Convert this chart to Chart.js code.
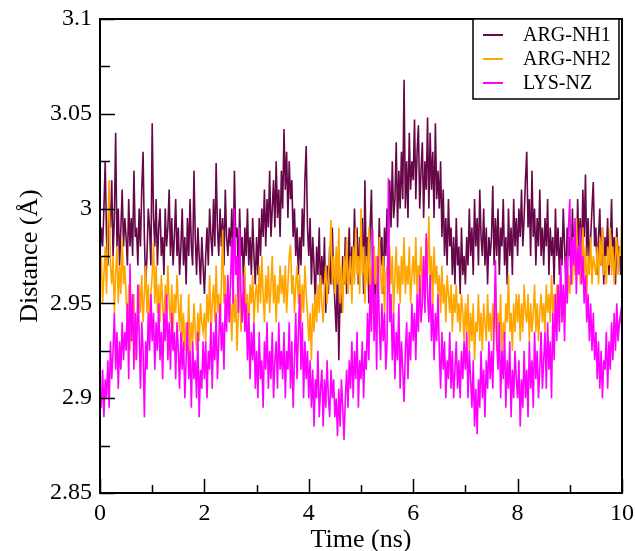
<!DOCTYPE html>
<html>
<head>
<meta charset="utf-8">
<title>Distance vs time</title>
<script src="https://cdn.jsdelivr.net/npm/chart.js@4.4.0/dist/chart.umd.min.js"></script>
<style>
    html, body { margin: 0; padding: 0; background: #fff; }
</style>
</head>
<body>
<canvas id="distChart" width="635" height="551"></canvas>
<script>
// Tempo de simulação (ns)
const timeNs = [
    0, 0.025, 0.05, 0.075, 0.1, 0.125, 0.15, 0.175, 0.2, 0.225, 0.25, 0.275, 0.3, 0.325, 0.35, 0.375, 0.4, 0.425, 0.45, 0.475,
    0.5, 0.525, 0.55, 0.575, 0.6, 0.625, 0.65, 0.675, 0.7, 0.725, 0.75, 0.775, 0.8, 0.825, 0.85, 0.875, 0.9, 0.925, 0.95, 0.975,
    1, 1.025, 1.05, 1.075, 1.1, 1.125, 1.15, 1.175, 1.2, 1.225, 1.25, 1.275, 1.3, 1.325, 1.35, 1.375, 1.4, 1.425, 1.45, 1.475,
    1.5, 1.525, 1.55, 1.575, 1.6, 1.625, 1.65, 1.675, 1.7, 1.725, 1.75, 1.775, 1.8, 1.825, 1.85, 1.875, 1.9, 1.925, 1.95, 1.975,
    2, 2.025, 2.05, 2.075, 2.1, 2.125, 2.15, 2.175, 2.2, 2.225, 2.25, 2.275, 2.3, 2.325, 2.35, 2.375, 2.4, 2.425, 2.45, 2.475,
    2.5, 2.525, 2.55, 2.575, 2.6, 2.625, 2.65, 2.675, 2.7, 2.725, 2.75, 2.775, 2.8, 2.825, 2.85, 2.875, 2.9, 2.925, 2.95, 2.975,
    3, 3.025, 3.05, 3.075, 3.1, 3.125, 3.15, 3.175, 3.2, 3.225, 3.25, 3.275, 3.3, 3.325, 3.35, 3.375, 3.4, 3.425, 3.45, 3.475,
    3.5, 3.525, 3.55, 3.575, 3.6, 3.625, 3.65, 3.675, 3.7, 3.725, 3.75, 3.775, 3.8, 3.825, 3.85, 3.875, 3.9, 3.925, 3.95, 3.975,
    4, 4.025, 4.05, 4.075, 4.1, 4.125, 4.15, 4.175, 4.2, 4.225, 4.25, 4.275, 4.3, 4.325, 4.35, 4.375, 4.4, 4.425, 4.45, 4.475,
    4.5, 4.525, 4.55, 4.575, 4.6, 4.625, 4.65, 4.675, 4.7, 4.725, 4.75, 4.775, 4.8, 4.825, 4.85, 4.875, 4.9, 4.925, 4.95, 4.975,
    5, 5.025, 5.05, 5.075, 5.1, 5.125, 5.15, 5.175, 5.2, 5.225, 5.25, 5.275, 5.3, 5.325, 5.35, 5.375, 5.4, 5.425, 5.45, 5.475,
    5.5, 5.525, 5.55, 5.575, 5.6, 5.625, 5.65, 5.675, 5.7, 5.725, 5.75, 5.775, 5.8, 5.825, 5.85, 5.875, 5.9, 5.925, 5.95, 5.975,
    6, 6.025, 6.05, 6.075, 6.1, 6.125, 6.15, 6.175, 6.2, 6.225, 6.25, 6.275, 6.3, 6.325, 6.35, 6.375, 6.4, 6.425, 6.45, 6.475,
    6.5, 6.525, 6.55, 6.575, 6.6, 6.625, 6.65, 6.675, 6.7, 6.725, 6.75, 6.775, 6.8, 6.825, 6.85, 6.875, 6.9, 6.925, 6.95, 6.975,
    7, 7.025, 7.05, 7.075, 7.1, 7.125, 7.15, 7.175, 7.2, 7.225, 7.25, 7.275, 7.3, 7.325, 7.35, 7.375, 7.4, 7.425, 7.45, 7.475,
    7.5, 7.525, 7.55, 7.575, 7.6, 7.625, 7.65, 7.675, 7.7, 7.725, 7.75, 7.775, 7.8, 7.825, 7.85, 7.875, 7.9, 7.925, 7.95, 7.975,
    8, 8.025, 8.05, 8.075, 8.1, 8.125, 8.15, 8.175, 8.2, 8.225, 8.25, 8.275, 8.3, 8.325, 8.35, 8.375, 8.4, 8.425, 8.45, 8.475,
    8.5, 8.525, 8.55, 8.575, 8.6, 8.625, 8.65, 8.675, 8.7, 8.725, 8.75, 8.775, 8.8, 8.825, 8.85, 8.875, 8.9, 8.925, 8.95, 8.975,
    9, 9.025, 9.05, 9.075, 9.1, 9.125, 9.15, 9.175, 9.2, 9.225, 9.25, 9.275, 9.3, 9.325, 9.35, 9.375, 9.4, 9.425, 9.45, 9.475,
    9.5, 9.525, 9.55, 9.575, 9.6, 9.625, 9.65, 9.675, 9.7, 9.725, 9.75, 9.775, 9.8, 9.825, 9.85, 9.875, 9.9, 9.925, 9.95, 9.975,
    10
];

// Distâncias (Å)
const argNH1 = [
    2.975, 2.99, 2.98, 3.0, 3.025, 2.985, 2.97, 3.005, 2.99, 3.015, 2.975, 2.995, 3.04, 2.98, 3.0, 2.97, 2.99, 3.01, 2.98, 2.995,
    2.985, 2.97, 3.005, 2.98, 2.995, 2.975, 3.02, 2.985, 2.99, 2.97, 3.0, 2.98, 3.01, 3.03, 2.985, 2.96, 2.975, 3.0, 2.99, 2.97,
    3.045, 2.995, 2.98, 3.005, 2.97, 2.99, 3.0, 2.975, 2.985, 2.965, 3.0, 2.98, 2.99, 3.01, 2.975, 2.995, 2.97, 2.985, 3.005, 2.975,
    2.99, 2.965, 2.98, 3.0, 2.97, 2.985, 2.96, 2.995, 2.975, 3.005, 2.98, 2.97, 3.02, 2.985, 2.965, 2.99, 2.975, 2.96, 2.985, 2.97,
    2.955, 2.975, 2.99, 2.97, 3.0, 2.985, 2.975, 3.005, 2.98, 3.024, 2.99, 2.975, 3.0, 2.98, 2.995, 2.97, 3.01, 2.985, 2.975, 2.99,
    2.98, 3.0, 2.97, 3.02, 2.985, 2.99, 2.965, 3.0, 2.975, 2.985, 2.96, 2.99, 2.975, 3.0, 2.97, 2.985, 2.965, 2.995, 2.975, 2.96,
    2.985, 2.965, 2.995, 2.975, 3.0, 2.985, 3.01, 2.98, 3.005, 2.99, 3.02, 2.985, 3.0, 3.015, 2.99, 3.025, 2.995, 3.01, 2.985, 3.02,
    3.0, 3.042, 3.01, 3.03, 2.995, 3.025, 3.005, 3.015, 2.985, 3.0, 2.975, 2.99, 2.965, 2.985, 2.97, 3.0, 2.98, 3.015, 3.033, 2.99,
    2.975, 2.995, 2.96, 2.985, 2.97, 2.95, 2.98, 2.965, 2.99, 2.955, 2.975, 2.96, 2.985, 2.945, 2.97, 2.955, 2.98, 2.96, 2.99, 2.965,
    2.95, 2.935, 2.97, 2.92, 2.955, 2.945, 2.975, 2.96, 2.985, 2.955, 2.97, 2.99, 2.96, 2.98, 2.965, 3.0, 2.975, 2.99, 2.96, 2.985,
    2.975, 2.995, 2.955, 3.015, 2.97, 2.985, 2.95, 2.99, 3.01, 2.965, 2.98, 2.945, 2.975, 2.96, 2.995, 2.97, 2.985, 2.955, 2.99, 2.975,
    3.0, 2.98, 3.015, 2.99, 3.025, 2.995, 3.005, 3.035, 2.99, 3.02, 3.0, 3.03, 3.005, 3.068, 3.0, 3.025, 2.995, 3.04, 3.01, 3.025,
    3.015, 3.047, 3.005, 3.03, 3.044, 3.0, 3.02, 3.035, 2.995, 3.025, 3.01, 3.048, 3.0, 3.04, 3.01, 3.03, 2.995, 3.045, 3.005, 3.02,
    3.0, 3.025, 2.985, 3.01, 2.975, 2.995, 2.97, 3.005, 2.98, 2.99, 2.965, 2.985, 2.96, 2.995, 2.97, 2.98, 2.955, 2.99, 2.965, 2.975,
    2.96, 2.985, 2.97, 3.0, 2.975, 2.99, 2.965, 3.005, 2.98, 2.995, 2.97, 3.01, 2.985, 2.975, 3.0, 2.97, 2.99, 2.96, 2.985, 2.975,
    2.985, 3.012, 2.97, 2.995, 2.975, 3.0, 2.965, 2.99, 2.98, 3.005, 2.97, 2.985, 2.96, 3.0, 2.975, 2.99, 2.965, 3.005, 2.98, 2.995,
    2.975, 3.0, 2.985, 3.01, 2.98, 2.995, 3.015, 3.03, 2.99, 3.005, 2.975, 3.02, 2.985, 3.0, 2.97, 2.995, 2.98, 3.01, 2.975, 2.99,
    2.97, 2.995, 2.98, 3.005, 2.965, 2.99, 2.975, 2.985, 2.96, 3.0, 2.975, 2.99, 2.965, 2.985, 2.97, 3.0, 2.98, 2.96, 2.99, 2.975,
    2.985, 2.96, 3.0, 2.975, 2.99, 2.965, 3.005, 2.98, 2.995, 2.97, 3.01, 2.985, 3.018, 2.975, 2.995, 2.97, 2.985, 3.0, 3.014, 2.98,
    2.99, 2.965, 2.985, 3.0, 2.97, 2.99, 2.96, 2.985, 2.975, 2.995, 2.965, 2.98, 3.005, 2.97, 2.985, 2.96, 2.99, 2.975, 2.98, 2.965,
    2.985
];

const argNH2 = [
    2.96, 2.975, 2.95, 2.965, 2.98, 2.955, 2.99, 3.015, 2.97, 2.96, 2.975, 2.945, 2.965, 2.98, 2.95, 2.97, 2.955, 2.985, 2.96, 2.97,
    2.955, 2.935, 2.96, 2.925, 2.945, 2.93, 2.955, 2.92, 2.94, 2.935, 2.96, 2.945, 2.965, 2.94, 2.955, 2.97, 2.945, 2.96, 2.935, 2.955,
    2.965, 2.982, 2.95, 2.97, 2.945, 2.96, 2.94, 2.965, 2.95, 2.935, 2.96, 2.945, 2.97, 2.95, 2.94, 2.96, 2.935, 2.955, 2.945, 2.965,
    2.95, 2.935, 2.955, 2.93, 2.945, 2.925, 2.94, 2.93, 2.955, 2.92, 2.94, 2.93, 2.95, 2.935, 2.925, 2.945, 2.93, 2.95, 2.94, 2.935,
    2.945, 2.93, 2.955, 2.94, 2.965, 2.935, 2.95, 2.96, 2.94, 2.97, 2.945, 2.955, 2.935, 2.96, 2.989, 2.95, 2.965, 2.94, 2.955, 2.945,
    2.95, 2.93, 2.96, 2.94, 2.955, 2.925, 2.945, 2.965, 2.935, 2.955, 2.945, 2.97, 2.94, 2.955, 2.935, 2.96, 2.95, 2.965, 2.94, 2.955,
    2.96, 2.945, 2.97, 2.95, 2.975, 2.955, 2.94, 2.965, 2.95, 2.97, 2.945, 2.96, 2.975, 2.95, 2.965, 2.94, 2.96, 2.95, 2.97, 2.955,
    2.965, 2.95, 2.97, 2.945, 2.96, 2.975, 2.981, 2.955, 2.965, 2.945, 2.96, 2.97, 2.95, 2.965, 2.94, 2.96, 2.945, 2.97, 2.955, 2.945,
    2.93, 2.945, 2.92, 2.95, 2.935, 2.955, 2.94, 2.96, 2.945, 2.965, 2.95, 2.94, 2.96, 2.97, 2.95, 2.965, 2.975, 2.994, 2.96, 2.975,
    2.955, 2.98, 2.96, 2.99, 2.95, 2.97, 2.945, 2.975, 2.96, 2.985, 2.955, 2.965, 2.975, 2.95, 2.98, 2.96, 2.99, 2.965, 2.975, 2.955,
    3.0, 2.965, 2.98, 2.95, 2.975, 2.96, 2.99, 2.955, 2.97, 2.945, 2.98, 2.96, 2.975, 2.95, 2.985, 2.965, 2.955, 2.975, 2.945, 2.965,
    2.97, 2.955, 2.98, 2.96, 2.975, 2.945, 2.965, 2.98, 2.955, 2.97, 2.95, 2.975, 2.96, 2.985, 2.955, 2.97, 2.96, 2.98, 2.95, 2.965,
    2.975, 2.96, 2.985, 2.955, 2.97, 2.965, 2.98, 2.95, 2.975, 2.96, 2.985, 2.965, 2.996, 2.96, 2.975, 2.95, 2.98, 2.96, 2.97, 2.955,
    2.965, 2.945, 2.97, 2.95, 2.96, 2.94, 2.965, 2.955, 2.945, 2.96, 2.935, 2.955, 2.945, 2.96, 2.94, 2.95, 2.935, 2.955, 2.945, 2.93,
    2.95, 2.935, 2.955, 2.925, 2.945, 2.93, 2.95, 2.92, 2.94, 2.935, 2.955, 2.93, 2.945, 2.925, 2.95, 2.94, 2.93, 2.955, 2.935, 2.945,
    2.93, 2.95, 2.935, 2.96, 2.925, 2.945, 2.935, 2.955, 2.92, 2.94, 2.93, 2.95, 2.94, 2.965, 2.935, 2.945, 2.925, 2.95, 2.935, 2.955,
    2.94, 2.955, 2.93, 2.95, 2.935, 2.96, 2.945, 2.94, 2.955, 2.93, 2.95, 2.935, 2.945, 2.96, 2.935, 2.95, 2.93, 2.945, 2.955, 2.94,
    2.95, 2.935, 2.96, 2.945, 2.955, 2.94, 2.965, 2.945, 2.955, 2.935, 2.96, 2.95, 2.94, 2.965, 2.945, 2.955, 2.94, 2.96, 2.95, 2.965,
    2.955, 2.975, 2.96, 2.985, 2.965, 2.995, 2.97, 2.98, 2.96, 2.975, 2.99, 2.965, 2.98, 2.955, 2.975, 2.965, 2.985, 2.96, 2.975, 2.97,
    2.965, 2.98, 2.96, 2.985, 2.97, 2.99, 2.965, 2.975, 2.96, 2.98, 2.97, 2.99, 2.965, 2.98, 2.96, 2.975, 2.985, 2.965, 2.98, 2.975,
    3.0
];

const lysNZ = [
    2.905, 2.895, 2.915, 2.89, 2.91, 2.9, 2.92, 2.895, 2.93, 2.91, 2.925, 2.945, 2.915, 2.935, 2.905, 2.93, 2.915, 2.94, 2.92, 2.935,
    2.925, 2.95, 2.91, 2.971, 2.93, 2.955, 2.915, 2.945, 2.92, 2.96, 2.935, 2.905, 2.94, 2.925, 2.89, 2.93, 2.915, 2.945, 2.925, 2.955,
    2.93, 2.945, 2.915, 2.94, 2.925, 2.95, 2.92, 2.935, 2.91, 2.945, 2.93, 2.955, 2.92, 2.94, 2.915, 2.945, 2.925, 2.935, 2.91, 2.94,
    2.925, 2.905, 2.935, 2.915, 2.93, 2.9, 2.92, 2.94, 2.91, 2.925, 2.895, 2.93, 2.91, 2.92, 2.9, 2.935, 2.89, 2.915, 2.905, 2.93,
    2.91, 2.93, 2.9, 2.925, 2.915, 2.94, 2.905, 2.935, 2.92, 2.945, 2.91, 2.93, 2.95, 2.925, 2.94, 2.915, 2.955, 2.935, 2.965, 2.94,
    2.96, 2.985, 2.95, 3.0, 2.965, 2.975, 2.945, 2.99, 2.955, 2.94, 2.965, 2.935, 2.95, 2.92, 2.945, 2.91, 2.935, 2.92, 2.94, 2.905,
    2.925, 2.9, 2.935, 2.91, 2.92, 2.895, 2.93, 2.915, 2.94, 2.905, 2.925, 2.91, 2.935, 2.9, 2.92, 2.93, 2.905, 2.94, 2.915, 2.925,
    2.91, 2.935, 2.9, 2.925, 2.915, 2.94, 2.905, 2.93, 2.895, 2.92, 2.945, 2.91, 2.935, 2.955, 2.915, 2.94, 2.9, 2.93, 2.91, 2.925,
    2.9, 2.92, 2.895, 2.915, 2.885, 2.91, 2.9, 2.925, 2.89, 2.905, 2.915, 2.885, 2.91, 2.895, 2.92, 2.9, 2.89, 2.915, 2.9, 2.91,
    2.89, 2.9, 2.88, 2.905, 2.885, 2.91, 2.895, 2.878, 2.9, 2.915, 2.895, 2.92, 2.905, 2.93, 2.9, 2.925, 2.91, 2.935, 2.895, 2.92,
    2.91, 2.93, 2.9, 2.925, 2.915, 2.945, 2.92, 2.96, 2.935, 2.989, 2.93, 2.955, 2.915, 2.975, 2.94, 2.92, 2.95, 2.93, 2.945, 2.915,
    2.93, 3.016, 2.94, 2.955, 2.92, 2.945, 2.91, 2.935, 2.92, 2.95, 2.905, 2.93, 2.915, 2.898, 2.925, 2.94, 2.91, 2.935, 2.92, 2.95,
    2.93, 2.945, 2.92, 2.955, 2.935, 2.965, 2.94, 2.95, 2.975, 2.945, 2.987, 2.955, 2.94, 2.965, 2.93, 2.95, 2.92, 2.945, 2.93, 2.955,
    2.925, 2.905, 2.935, 2.915, 2.93, 2.9, 2.92, 2.91, 2.935, 2.905, 2.925, 2.9, 2.915, 2.93, 2.905, 2.92, 2.9, 2.925, 2.91, 2.93,
    2.915, 2.935, 2.9, 2.925, 2.91, 2.895, 2.92, 2.885, 2.905, 2.881, 2.91, 2.895, 2.925, 2.9, 2.915, 2.89, 2.92, 2.905, 2.93, 2.91,
    2.925, 2.905, 2.94, 2.973, 2.93, 2.915, 2.94, 2.9, 2.925, 2.91, 2.935, 2.895, 2.92, 2.905, 2.93, 2.89, 2.915, 2.9, 2.925, 2.91,
    2.9, 2.92, 2.885, 2.91, 2.895, 2.925, 2.9, 2.915, 2.89, 2.93, 2.905, 2.92, 2.895, 2.935, 2.91, 2.925, 2.9, 2.915, 2.935, 2.905,
    2.92, 2.935, 2.905, 2.94, 2.915, 2.93, 2.9, 2.945, 2.92, 2.955, 2.93, 2.96, 2.935, 2.973, 2.94, 2.96, 2.93, 2.975, 2.95, 2.99,
    3.005, 2.96, 2.985, 2.97, 2.995, 2.955, 2.98, 2.965, 2.99, 2.96, 2.975, 2.95, 2.965, 2.94, 2.955, 2.93, 2.95, 2.925, 2.945, 2.92,
    2.935, 2.91, 2.93, 2.905, 2.925, 2.9, 2.92, 2.915, 2.935, 2.905, 2.93, 2.915, 2.94, 2.92, 2.945, 2.925, 2.95, 2.93, 2.94, 2.945,
    2.935
];

const seriesNames = ['ARG-NH1', 'ARG-NH2', 'LYS-NZ'];
const seriesColors = ['#670748', '#ffa500', '#ff00ff'];

// Marcas dos eixos
const xMajorTicks = [0, 2, 4, 6, 8, 10];
const xMinorTicks = [1, 3, 5, 7, 9];
const yMajorTicks = [2.85, 2.9, 2.95, 3, 3.05, 3.1];
const yMinorTicks = [2.875, 2.925, 2.975, 3.025, 3.075];

const serif = "'Liberation Serif', 'Times New Roman', serif";

[argNH1, argNH2, lysNZ].forEach((s, i) => {
    if (s.length !== timeNs.length) {
        throw new Error(seriesNames[i] + ': ' + s.length + ' valores, esperado ' + timeNs.length);
    }
});

function toPoints(values) {
    return timeNs.map((t, i) => ({ x: t, y: values[i] }));
}

// Moldura, ticks para dentro e legenda no estilo Grace
const gracePlot = {
    id: 'gracePlot',
    afterDatasetsDraw(chart) {
        const { ctx, chartArea: a, scales: { x, y } } = chart;
        ctx.save();
        ctx.strokeStyle = '#000';

        // ticks
        ctx.lineWidth = 1.5;
        ctx.beginPath();
        xMajorTicks.forEach(v => {
            const px = Math.round(x.getPixelForValue(v)) + 0.5;
            ctx.moveTo(px, a.bottom); ctx.lineTo(px, a.bottom - 14);
        });
        xMinorTicks.forEach(v => {
            const px = Math.round(x.getPixelForValue(v)) + 0.5;
            ctx.moveTo(px, a.bottom); ctx.lineTo(px, a.bottom - 8);
        });
        yMajorTicks.forEach(v => {
            const py = Math.round(y.getPixelForValue(v)) + 0.5;
            ctx.moveTo(a.left, py); ctx.lineTo(a.left + 15, py);
        });
        yMinorTicks.forEach(v => {
            const py = Math.round(y.getPixelForValue(v)) + 0.5;
            ctx.moveTo(a.left, py); ctx.lineTo(a.left + 10, py);
        });
        ctx.stroke();

        // moldura
        ctx.lineWidth = 2;
        ctx.strokeRect(a.left, a.top, a.right - a.left, a.bottom - a.top);

        // legenda
        const boxW = 146, boxH = 80;
        const bx = a.right - 3 - boxW, by = a.top;
        ctx.fillStyle = '#fff';
        ctx.fillRect(bx, by, boxW, boxH);
        ctx.lineWidth = 1.5;
        ctx.strokeRect(bx, by, boxW, boxH);
        ctx.font = '20px ' + serif;
        ctx.textBaseline = 'middle';
        ctx.textAlign = 'left';
        seriesNames.forEach((name, i) => {
            const ly = by + 16 + i * 24;
            ctx.strokeStyle = seriesColors[i];
            ctx.lineWidth = 2;
            ctx.beginPath();
            ctx.moveTo(bx + 10, ly); ctx.lineTo(bx + 30, ly);
            ctx.stroke();
            ctx.fillStyle = '#000';
            ctx.fillText(name, bx + 50, ly + 1);
        });
        ctx.restore();
    }
};

const datasets = [argNH1, argNH2, lysNZ].map((vals, i) => ({
    label: seriesNames[i],
    data: toPoints(vals),
    borderColor: seriesColors[i],
    backgroundColor: seriesColors[i],
    borderWidth: 1.6,
    pointRadius: 0,
    tension: 0,
    fill: false,
    order: 3 - i   // LYS-NZ desenhada por cima
}));

new Chart(document.getElementById('distChart'), {
    type: 'line',
    data: { datasets },
    plugins: [gracePlot],
    options: {
        responsive: false,
        animation: false,
        devicePixelRatio: 1,
        layout: {
            autoPadding: false,
            padding: { top: 19, right: 13, left: 17, bottom: 0 }
        },
        plugins: {
            legend: { display: false },
            tooltip: { enabled: false }
        },
        scales: {
            x: {
                type: 'linear',
                min: 0,
                max: 10,
                grid: { display: false, drawTicks: false },
                border: { display: false },
                ticks: {
                    stepSize: 2,
                    padding: 6,
                    maxRotation: 0,
                    color: '#000',
                    font: { family: serif, size: 24 }
                },
                title: {
                    display: true,
                    text: 'Time (ns)',
                    color: '#000',
                    padding: 0,
                    font: { family: serif, size: 26, lineHeight: 0.8 }
                },
                afterFit(scale) {
                    scale.height = 58;
                    scale.paddingLeft = 0;
                    scale.paddingRight = 0;
                }
            },
            y: {
                min: 2.85,
                max: 3.1,
                grid: { display: false, drawTicks: false },
                border: { display: false },
                ticks: {
                    stepSize: 0.05,
                    padding: 8,
                    color: '#000',
                    font: { family: serif, size: 24 },
                    callback: v => String(Number(v.toFixed(2)))
                },
                title: {
                    display: true,
                    text: 'Distance (Å)',
                    color: '#000',
                    padding: 0,
                    font: { family: serif, size: 26, lineHeight: 1 }
                },
                afterFit(scale) {
                    scale.width = 83;
                    scale.paddingTop = 0;
                    scale.paddingBottom = 0;
                }
            }
        }
    }
});
</script>
</body>
</html>
